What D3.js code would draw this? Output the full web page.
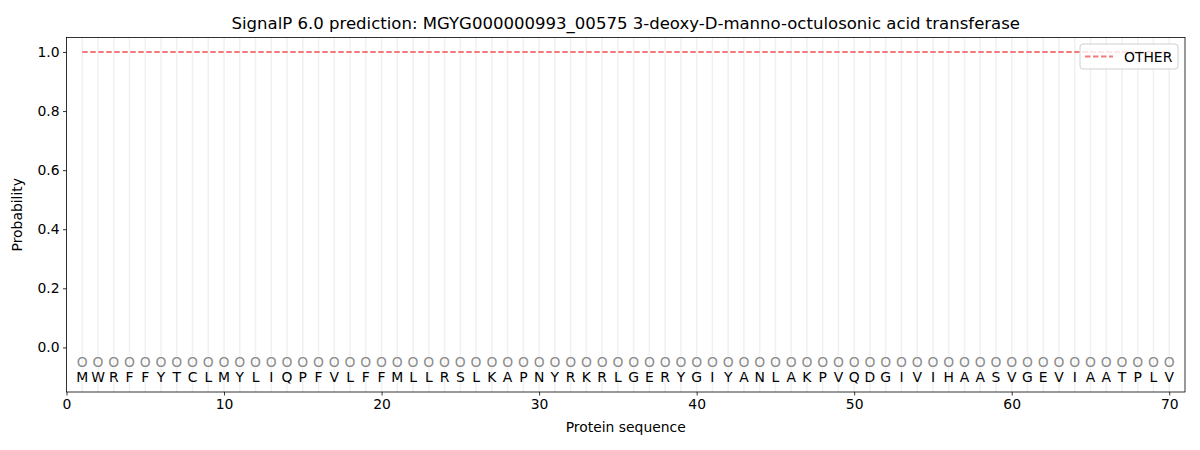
<!DOCTYPE html>
<html>
<head>
<meta charset="utf-8">
<script src="https://cdn.jsdelivr.net/npm/d3@7"></script>
<style>
  body { margin: 0; background: #fff; }
  svg text { font-family: "DejaVu Sans", sans-serif; }
</style>
</head>
<body>
<div id="chart"></div>
<script>
// residues of the protein, position 1..70
const sequence = "MWRFFYTCLMYLIQPFVLFFMLLRSLKAPNYRKRLGERYGIYANLAKPVQDGIVIHAASVGEVIAATPLV".split("");
const positions = sequence.map((d, i) => i + 1);
// predicted label per residue (O = other)
const predLabels = positions.map(() => "O");
// probability of class OTHER per position
const otherProb = positions.map(() => 1.0);
const xTicks = [0, 10, 20, 30, 40, 50, 60, 70];
const yTicks = [0.0, 0.2, 0.4, 0.6, 0.8, 1.0];
const titleText = "SignalP 6.0 prediction: MGYG000000993_00575 3-deoxy-D-manno-octulosonic acid transferase";

const W = 1200, H = 450;
const margin = {top : 37.5, right : 15, bottom : 58, left : 66.5};
const width = W - margin.left - margin.right;
const height = H - margin.top - margin.bottom;

const svg = d3.select("#chart").append("svg")
    .attr("width", W).attr("height", H);

const g = svg.append("g")
    .attr("transform", "translate(" + margin.left + "," + margin.top + ")");

const xScale = d3.scaleLinear().domain([ 0, 71 ]).range([ 0, width ]);
const yScale = d3.scaleLinear().domain([ -0.151, 1.049 ]).range([ height, 0 ]);

// light vertical guides at each residue
g.selectAll(".guide").data(positions).enter().append("line")
    .attr("x1", d => xScale(d)).attr("x2", d => xScale(d))
    .attr("y1", 0).attr("y2", height)
    .attr("stroke", "#f0f0f0").attr("stroke-width", 1.5);

// OTHER line
const lineGen = d3.line()
    .x((d, i) => xScale(positions[i]))
    .y(d => yScale(d));
g.append("path")
    .attr("d", lineGen(otherProb))
    .attr("fill", "none")
    .attr("stroke", "#f07c7c")
    .attr("stroke-width", 1.8)
    .attr("stroke-dasharray", "5.5,2.5");

// predicted labels (gray) and residue letters
g.selectAll(".pred").data(predLabels).enter().append("text")
    .attr("x", (d, i) => xScale(positions[i])).attr("y", yScale(-0.05))
    .attr("text-anchor", "middle").attr("dominant-baseline", "central")
    .attr("font-size", "13.9px").attr("fill", "#8c8c8c")
    .text(d => d);

g.selectAll(".res").data(sequence).enter().append("text")
    .attr("x", (d, i) => xScale(positions[i])).attr("y", yScale(-0.1))
    .attr("text-anchor", "middle").attr("dominant-baseline", "central")
    .attr("font-size", "13.9px").attr("fill", "#000")
    .text(d => d);

// axes
const xAxis = g.append("g")
    .attr("transform", "translate(0," + height + ")")
    .call(d3.axisBottom(xScale).tickValues(xTicks).tickSize(3.5).tickPadding(3.5));
const yAxis = g.append("g")
    .call(d3.axisLeft(yScale).tickValues(yTicks).tickFormat(d3.format(".1f")).tickSize(3.5).tickPadding(3.5));
[xAxis, yAxis].forEach(a => {
  a.selectAll("text").attr("font-size", "13.9px").attr("fill", "#000")
      .style("font-family", "DejaVu Sans");
  a.selectAll("line").attr("stroke", "#000").attr("stroke-width", 0.8);
  a.select(".domain").remove();
});

// frame
g.append("rect")
    .attr("width", width).attr("height", height)
    .attr("fill", "none").attr("stroke", "#000").attr("stroke-width", 0.8);

// labels
g.append("text")
    .attr("x", width / 2).attr("y", height + 40)
    .attr("text-anchor", "middle").attr("font-size", "13.9px")
    .text("Protein sequence");
g.append("text")
    .attr("transform", "translate(-45," + (height / 2) + ") rotate(-90)")
    .attr("text-anchor", "middle").attr("font-size", "13.9px")
    .text("Probability");
svg.append("text")
    .attr("x", margin.left + width / 2).attr("y", 29)
    .attr("text-anchor", "middle").attr("font-size", "16.55px")
    .text(titleText);

// legend
const legend = g.append("g").attr("transform", "translate(" + (width - 105) + ",6.5)");
legend.append("rect")
    .attr("width", 98).attr("height", 25).attr("rx", 3)
    .attr("fill", "#fff").attr("fill-opacity", 0.8)
    .attr("stroke", "#d0d0d0").attr("stroke-width", 1);
legend.append("line")
    .attr("x1", 5).attr("x2", 33).attr("y1", 12.5).attr("y2", 12.5)
    .attr("stroke", "#f07c7c").attr("stroke-width", 1.8)
    .attr("stroke-dasharray", "5.5,2.5");
legend.append("text")
    .attr("x", 44).attr("y", 12.5).attr("dominant-baseline", "central")
    .attr("font-size", "13.9px").text("OTHER");
</script>
</body>
</html>
